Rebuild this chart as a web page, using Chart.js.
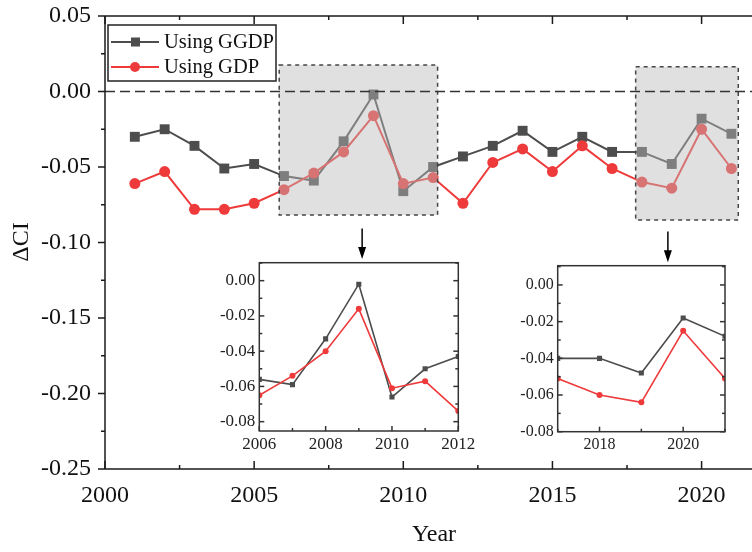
<!DOCTYPE html>
<html>
<head>
<meta charset="utf-8">
<script src="https://cdn.jsdelivr.net/npm/chart.js@4.4.1/dist/chart.umd.min.js"></script>
<style>
  body { margin: 0; background: #fff; }
  #wrap { position: relative; width: 752px; height: 552px; overflow: hidden; }
  canvas { position: absolute; }
</style>
</head>
<body>
<div id="wrap">
  <canvas id="main" width="752" height="552" style="left:0;top:0"></canvas>
  <canvas id="in1" width="300" height="210" style="left:190px;top:250px"></canvas>
  <canvas id="in2" width="262" height="210" style="left:490px;top:250px"></canvas>
</div>
<script>
// data
const years = [2001, 2002, 2003, 2004, 2005, 2006, 2007, 2008, 2009, 2010, 2011,
               2012, 2013, 2014, 2015, 2016, 2017, 2018, 2019, 2020, 2021];
const ggdp = [-0.030, -0.025, -0.036, -0.051, -0.048, -0.056, -0.059, -0.033, -0.002, -0.066, -0.050,
              -0.043, -0.036, -0.026, -0.040, -0.030, -0.040, -0.040, -0.048, -0.018, -0.028];
const gdp = [-0.061, -0.053, -0.078, -0.078, -0.074, -0.065, -0.054, -0.040, -0.016, -0.061, -0.057,
             -0.074, -0.047, -0.038, -0.053, -0.036, -0.051, -0.060, -0.064, -0.025, -0.051];
const seriesNames = ["Using GGDP", "Using GDP"];

const mainXTicks = [2000, 2005, 2010, 2015, 2020];
const mainYTicks = [0.05, 0.00, -0.05, -0.10, -0.15, -0.20, -0.25];
const in1XTicks = [2006, 2008, 2010, 2012];
const in1YTicks = [0.00, -0.02, -0.04, -0.06, -0.08];
const in2XTicks = [2018, 2020];
const in2YTicks = [0.00, -0.02, -0.04, -0.06, -0.08];

// zoom boxes [x0, x1, yTop, yBottom] and arrows [x, yFrom, yTo] in data units
const zoomBoxes = [[2005.84, 2011.15, 0.0175, -0.0818], [2017.79, 2021.23, 0.0164, -0.0851]];
const arrows = [[2008.62, -0.0907, -0.1110], [2018.87, -0.0927, -0.1130]];

const SERIF = "'Liberation Serif', 'Times New Roman', serif";
const GREY = "#4d4d4d";
const RED = "#ee3a3a";
const INK = "#1a1a1a";

function makeSets(sq, circ, lw) {
  return [
    { label: seriesNames[0], data: years.map((x, i) => ({ x, y: ggdp[i] })),
      borderColor: GREY, backgroundColor: GREY, borderWidth: lw,
      pointStyle: "rect", pointRadius: sq, pointBorderWidth: 0, order: 2 },
    { label: seriesNames[1], data: years.map((x, i) => ({ x, y: gdp[i] })),
      borderColor: RED, backgroundColor: RED, borderWidth: lw,
      pointStyle: "circle", pointRadius: circ, pointBorderWidth: 0, order: 1 }
  ];
}

function line(ctx, x0, y0, x1, y1) {
  ctx.beginPath(); ctx.moveTo(x0, y0); ctx.lineTo(x1, y1); ctx.stroke();
}

// keep the plot area exactly where the layout padding puts it
function noPad(s) { s.paddingTop = 0; s.paddingBottom = 0; s.paddingLeft = 0; s.paddingRight = 0; }

// main chart decorations
const mainDeco = {
  id: "mainDeco",
  afterDatasetsDraw(chart) {
    const ctx = chart.ctx, xs = chart.scales.x, ys = chart.scales.y, a = chart.chartArea;
    ctx.save();
    // shaded zoom boxes
    zoomBoxes.forEach(b => {
      const x0 = xs.getPixelForValue(b[0]), x1 = xs.getPixelForValue(b[1]);
      const y0 = ys.getPixelForValue(b[2]), y1 = ys.getPixelForValue(b[3]);
      ctx.fillStyle = "rgba(186,186,186,0.45)";
      ctx.fillRect(x0, y0, x1 - x0, y1 - y0);
      ctx.setLineDash([4, 4]);
      ctx.strokeStyle = "#444";
      ctx.lineWidth = 1.5;
      ctx.strokeRect(x0, y0, x1 - x0, y1 - y0);
    });
    // zero line
    ctx.setLineDash([10, 5]);
    ctx.strokeStyle = "#333";
    ctx.lineWidth = 1.5;
    const yz = ys.getPixelForValue(0);
    line(ctx, a.left, yz, a.right, yz);
    ctx.setLineDash([]);

    // arrows
    ctx.strokeStyle = "#000"; ctx.fillStyle = "#000"; ctx.lineWidth = 1.5;
    arrows.forEach(r => {
      const x = xs.getPixelForValue(r[0]), y0 = ys.getPixelForValue(r[1]), y1 = ys.getPixelForValue(r[2]);
      line(ctx, x, y0, x, y1 - 8);
      ctx.beginPath();
      ctx.moveTo(x - 4, y1 - 12); ctx.lineTo(x + 4, y1 - 12); ctx.lineTo(x, y1); ctx.closePath(); ctx.fill();
    });

    // legend
    ctx.fillStyle = "#fff";
    ctx.fillRect(108, 25, 168, 56);
    ctx.strokeStyle = "#222"; ctx.lineWidth = 1.5;
    ctx.strokeRect(108, 25, 168, 56);
    const rows = [[42, GREY, "rect"], [67, RED, "circle"]];
    rows.forEach((r, i) => {
      ctx.strokeStyle = r[1]; ctx.fillStyle = r[1]; ctx.lineWidth = 2;
      line(ctx, 111, r[0], 159, r[0]);
      if (r[2] === "rect") ctx.fillRect(131, r[0] - 4.5, 9, 9);
      else { ctx.beginPath(); ctx.arc(135, r[0], 5, 0, Math.PI * 2); ctx.fill(); }
      ctx.fillStyle = "#111";
      ctx.font = "20.5px " + SERIF;
      ctx.textBaseline = "middle";
      ctx.textAlign = "left";
      ctx.fillText(seriesNames[i], 164, r[0] + 1);
    });

    // axes frame and ticks
    ctx.strokeStyle = INK; ctx.lineWidth = 1.5;
    line(ctx, a.left, a.top, a.left, a.bottom);
    line(ctx, a.left, a.bottom, a.right, a.bottom);
    line(ctx, a.left, a.top, a.right, a.top);
    for (let v = 2000; v <= 2021.6; v += 2.5) {
      const x = xs.getPixelForValue(v), major = v % 5 === 0;
      line(ctx, x, a.bottom, x, a.bottom - (major ? 8 : 4));
      line(ctx, x, a.top, x, a.top + (major ? 8 : 4));
    }
    for (let k = 0; k <= 12; k++) {
      const v = 0.05 - k * 0.025, y = ys.getPixelForValue(v), major = k % 2 === 0;
      line(ctx, a.left, y, a.left - (major ? 7 : 4), y);
    }

    // axis titles
    ctx.fillStyle = "#111";
    ctx.font = "24px " + SERIF;
    ctx.textAlign = "center";
    ctx.textBaseline = "middle";
    ctx.fillText("Year", 434, 535);
    ctx.save();
    ctx.translate(22, 242);
    ctx.rotate(-Math.PI / 2);
    ctx.fillText("\u0394CI", 0, 0);
    ctx.restore();
    ctx.restore();
  }
};

// inset frame: full box with inward ticks
function insetDeco(xMajor, xMin, xMax) {
  return {
    id: "insetDeco",
    afterDatasetsDraw(chart) {
      const ctx = chart.ctx, xs = chart.scales.x, ys = chart.scales.y, a = chart.chartArea;
      ctx.save();
      ctx.strokeStyle = "#333"; ctx.lineWidth = 1.5;
      ctx.strokeRect(a.left, a.top, a.right - a.left, a.bottom - a.top);
      for (let v = xMin; v <= xMax; v++) {
        const x = xs.getPixelForValue(v), major = xMajor.includes(v);
        line(ctx, x, a.bottom, x, a.bottom - (major ? 5 : 3));
      }
      for (let k = -9; k <= 1; k++) {
        const v = k * 0.01;
        if (v < ys.min || v > ys.max) continue;
        const y = ys.getPixelForValue(v), major = k % 2 === 0;
        line(ctx, a.left, y, a.left + (major ? 5 : 3), y);
        line(ctx, a.right, y, a.right - (major ? 5 : 3), y);
      }
      ctx.restore();
    }
  };
}

function insetChart(id, xMin, xMax, yMin, yMax, xTicks, yTicks, fs, pad, yW, xH) {
  new Chart(document.getElementById(id), {
    type: "line",
    data: { datasets: makeSets(3.6, 3, 1.6) },
    options: {
      responsive: false,
      animation: false,
      events: [],
      layout: { padding: pad, autoPadding: false },
      plugins: { legend: { display: false }, tooltip: { enabled: false } },
      scales: {
        x: {
          type: "linear", min: xMin, max: xMax,
          grid: { display: false, drawTicks: false }, border: { display: false },
          afterBuildTicks: s => { s.ticks = xTicks.map(v => ({ value: v })); },
          afterFit: s => { s.height = xH; noPad(s); },
          ticks: { font: { family: SERIF, size: fs }, color: "#222", padding: 3,
                   maxRotation: 0, autoSkip: false, callback: v => String(v) }
        },
        y: {
          min: yMin, max: yMax,
          grid: { display: false, drawTicks: false }, border: { display: false },
          afterBuildTicks: s => { s.ticks = yTicks.map(v => ({ value: v })); },
          afterFit: s => { s.width = yW; noPad(s); },
          ticks: { font: { family: SERIF, size: fs }, color: "#222", padding: 4,
                   callback: v => v.toFixed(2) }
        }
      }
    },
    plugins: [insetDeco(xTicks, Math.ceil(xMin), Math.floor(xMax))]
  });
}

new Chart(document.getElementById("main"), {
  type: "line",
  data: { datasets: makeSets(7, 5.5, 2) },
  options: {
    responsive: false,
    animation: false,
    events: [],
    layout: { padding: { top: 16, right: 0, bottom: 0, left: 0 }, autoPadding: false },
    plugins: { legend: { display: false }, tooltip: { enabled: false } },
    scales: {
      x: {
        type: "linear", min: 2000, max: 2021.69,
        grid: { display: false, drawTicks: false }, border: { display: false },
        afterBuildTicks: s => { s.ticks = mainXTicks.map(v => ({ value: v })); },
        afterFit: s => { s.height = 83; noPad(s); },
        ticks: { font: { family: SERIF, size: 24 }, color: "#111", padding: 12,
                 maxRotation: 0, autoSkip: false, callback: v => String(v) }
      },
      y: {
        min: -0.25, max: 0.05,
        grid: { display: false, drawTicks: false }, border: { display: false },
        afterBuildTicks: s => { s.ticks = mainYTicks.map(v => ({ value: v })); },
        afterFit: s => { s.width = 105; noPad(s); },
        ticks: { font: { family: SERIF, size: 24 }, color: "#111", padding: 14,
                 callback: v => v.toFixed(2) }
      }
    }
  },
  plugins: [mainDeco]
});

insetChart("in1", 2006, 2012, -0.0853, 0.0102, in1XTicks, in1YTicks, 17,
           { top: 12.7, right: 31.7, bottom: 0, left: 0 }, 69.3, 29);
insetChart("in2", 2017, 2021, -0.08, 0.0105, in2XTicks, in2YTicks, 16,
           { top: 15.7, right: 27, bottom: 0, left: 0 }, 67.7, 28.3);
</script>
</body>
</html>
